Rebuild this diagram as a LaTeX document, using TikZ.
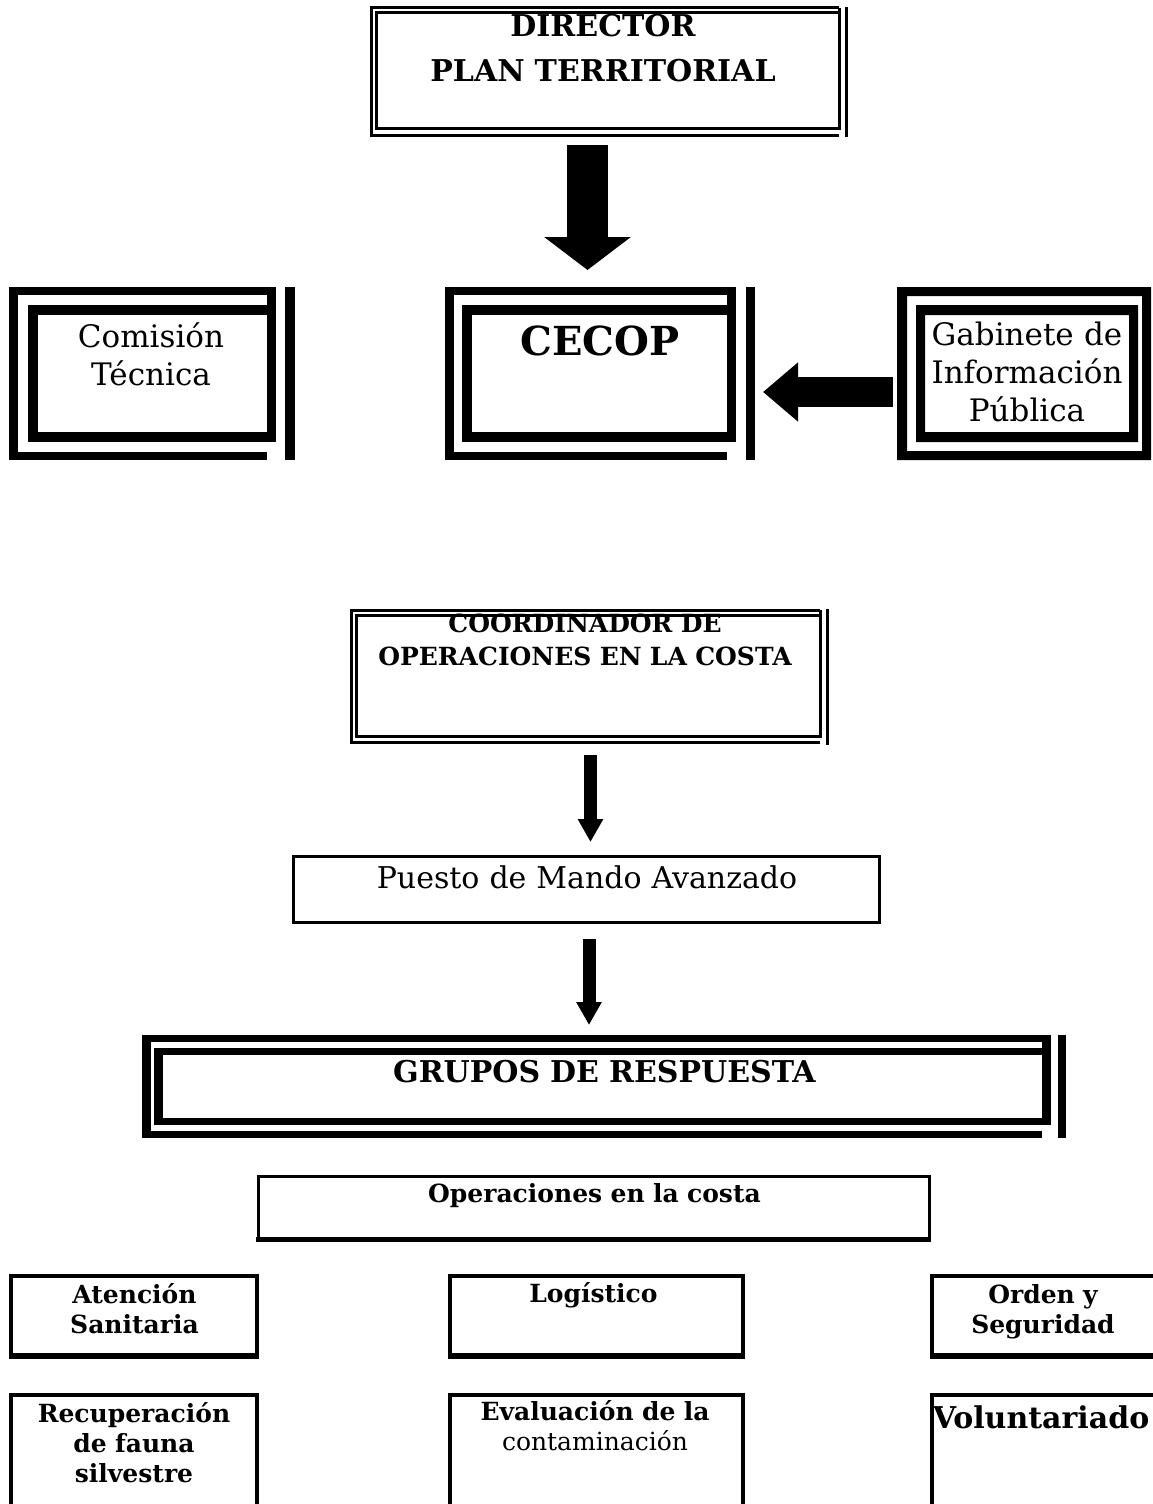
\documentclass[tikz,border=0pt]{standalone}
\usepackage{fontspec}
\setmainfont{DejaVu Serif}
\usetikzlibrary{arrows.meta}
\begin{document}
\begin{tikzpicture}[x=0.5pt,y=-0.5pt,
  boxarea/.style={inner sep=0pt, outer sep=0pt, draw=none},
  txt/.style={inner sep=0pt, anchor=base, align=center, text width=#1},
  hd/.style={font=\bfseries\fontsize{15pt}{22.5pt}\selectfont},
  rowtwo/.style={font=\fontsize{15.5pt}{19pt}\selectfont},
  smallbold/.style={font=\bfseries\fontsize{12.5pt}{15pt}\selectfont},
  thinframe/.style={line width=1.5pt},
  plainframe/.style={line width=2pt},
  shadowline/.style={line width=3pt},
  bigarrow/.style={line width=20.5pt, -{Triangle[width=42.5pt,length=16.5pt]}},
  sidearrow/.style={line width=15pt, -{Triangle[width=28.5pt,length=17.5pt]}},
  slimarrow/.style={line width=6.5pt, -{Triangle[width=12pt,length=11.5pt]}}
]
\useasboundingbox (0,0) rectangle (1152,1504);

% ---------- box areas (invisible anchors) ----------
\node[boxarea, minimum width=238.5pt, minimum height=65pt] (director) at (608.5,72) {};
\node[boxarea, minimum width=143pt, minimum height=86.5pt] (comision) at (152,373.5) {};
\node[boxarea, minimum width=155pt, minimum height=86.5pt] (cecop) at (600,373.5) {};
\node[boxarea, minimum width=126.5pt, minimum height=86.5pt] (gabinete) at (1023.5,373.5) {};
\node[boxarea, minimum width=239pt, minimum height=68pt] (coordinador) at (589,677) {};
\node[boxarea, minimum width=294.5pt, minimum height=34.5pt] (puesto) at (586.5,889.5) {};
\node[boxarea, minimum width=462pt, minimum height=51.5pt] (grupos) at (604,1086.5) {};
\node[boxarea, minimum width=337pt, minimum height=33pt] (operaciones) at (594,1208) {};
\node[boxarea, minimum width=125pt, minimum height=42.5pt] (atencion) at (134,1316.5) {};
\node[boxarea, minimum width=148.5pt, minimum height=42.5pt] (logistico) at (595.5,1316.5) {};
\node[boxarea, minimum width=115pt, minimum height=42.5pt] (orden) at (1045,1316.5) {};
\node[boxarea, minimum width=125pt, minimum height=63.5pt] (recuperacion) at (134,1456.5) {};
\node[boxarea, minimum width=148.5pt, minimum height=63.5pt] (evaluacion) at (595.5,1456.5) {};
\node[boxarea, minimum width=115pt, minimum height=63.5pt] (voluntariado) at (1045,1456.5) {};

% ---------- Director frame (thin double) ----------
\draw[thinframe] (839,8) -| (371,136) -- (839,136);
\draw[thinframe] (376,13) rectangle (839,129);
\draw[thinframe] (839,8) -- (839,13);
\draw[thinframe] (846,7) -- (846,137);

% ---------- Comision frame ----------
\fill (9,287) rectangle (276,295);
\fill (9,287) rectangle (18,460);
\fill (9,452) rectangle (267,460);
\fill (28,305) rectangle (276,315);
\fill (28,305) rectangle (38,442);
\fill (28,432) rectangle (276,442);
\fill (267,287) rectangle (276,442);
\fill (285,287) rectangle (295,460);

% ---------- CECOP frame ----------
\fill (445,287) rectangle (736,295);
\fill (445,287) rectangle (454,460);
\fill (445,452) rectangle (727,460);
\fill (462,305) rectangle (736,315);
\fill (462,305) rectangle (472,442);
\fill (462,432) rectangle (736,442);
\fill (727,287) rectangle (736,442);
\fill (746,287) rectangle (755,460);

% ---------- Gabinete frame ----------
\fill[even odd rule] (897,287) rectangle (1151,460) (907,296) rectangle (1142,451);
\fill[even odd rule] (916,305) rectangle (1138,442) (925,315) rectangle (1129,432);

% ---------- Coordinador frame (thin double) ----------
\draw[thinframe] (820,610) -| (351,742) -- (820,742);
\draw[thinframe] (356,615) rectangle (820,736);
\draw[thinframe] (820,610) -- (820,615);
\draw[thinframe] (827,609) -- (827,745);

% ---------- Puesto frame ----------
\draw[line width=1.6pt] (293.5,856.5) rectangle (879.5,922.5);

% ---------- Grupos frame ----------
\fill (142,1035) rectangle (1051,1042);
\fill (142,1035) rectangle (151,1138);
\fill (142,1131) rectangle (1042,1138);
\fill (154,1048) rectangle (1051,1055);
\fill (154,1048) rectangle (163,1125);
\fill (154,1118) rectangle (1051,1125);
\fill (1042,1035) rectangle (1051,1125);
\fill (1058,1035) rectangle (1066,1138);

% ---------- Operaciones frame ----------
\draw[line width=1.5pt] (258.5,1176.5) rectangle (929.5,1238);
\draw[line width=2.5pt] (256,1239) -- (931,1239);

% ---------- bottom frames ----------
\draw[plainframe] (11,1276) rectangle (257,1355);
\draw[shadowline] (9,1356) -- (259,1356);
\draw[plainframe] (449.5,1276) rectangle (742.5,1355);
\draw[shadowline] (447.5,1356) -- (744.5,1356);
\draw[plainframe] (932,1276) rectangle (1170,1355);
\draw[shadowline] (930,1356) -- (1170,1356);
\draw[plainframe] (11,1395) rectangle (257,1530);
\draw[plainframe] (449.5,1395) rectangle (742.5,1530);
\draw[plainframe] (932,1395) rectangle (1170,1530);

% ---------- texts ----------
\node[txt=230pt, hd] (dirtxt) at (603,37) {DIRECTOR\\PLAN TERRITORIAL};
\node[txt=130pt, rowtwo] (comtxt) at (151,347) {Comisión\\Técnica};
\node[txt=140pt, font=\bfseries\fontsize{20pt}{24pt}\selectfont] (cecoptxt) at (600,355) {CECOP};
\node[txt=125pt, rowtwo] (gabtxt) at (1027,345) {Gabinete de\\Información\\Pública};
\node[txt=235pt, font=\bfseries\fontsize{12.5pt}{16.5pt}\selectfont] (coortxt) at (585,632) {COORDINADOR DE\\OPERACIONES EN LA COSTA};
\node[txt=290pt, font=\fontsize{15pt}{18pt}\selectfont] (puestotxt) at (587,888) {Puesto de Mando Avanzado};
\node[txt=400pt, hd] (grupostxt) at (604.5,1082) {GRUPOS DE RESPUESTA};
\node[txt=330pt, smallbold] (opertxt) at (594.5,1202) {Operaciones en la costa};
\node[txt=120pt, smallbold] (atenciontxt) at (134.5,1303) {Atención\\Sanitaria};
\node[txt=140pt, smallbold] (logtxt) at (593.5,1302) {Logístico};
\node[txt=110pt, smallbold] (ordentxt) at (1043,1303) {Orden y\\Seguridad};
\node[txt=120pt, smallbold] (recuptxt) at (134,1422) {Recuperación\\de fauna\\silvestre};
\node[txt=140pt, smallbold] (evaltxt) at (595,1420) {Evaluación de la\\\textmd{contaminación}};
\node[txt=115pt, hd] (voltxt) at (1041,1428) {Voluntariado};

% ---------- connectors ----------
\coordinate (c1) at (587.5,0);
\coordinate (c2) at (0,392);
\coordinate (c3) at (590.5,0);
\coordinate (c4) at (589,0);
\draw[bigarrow, shorten <=4pt, shorten >=8.5pt] (director.south -| c1) -- (cecop.north -| c1);
\draw[sidearrow, shorten <=2pt, shorten >=4pt] (gabinete.west |- c2) -- (cecop.east |- c2);
\draw[slimarrow, shorten <=5pt, shorten >=6.5pt] (coordinador.south -| c3) -- (puesto.north -| c3);
\draw[slimarrow, shorten <=7.5pt, shorten >=5pt] (puesto.south -| c4) -- (grupos.north -| c4);
\end{tikzpicture}
\end{document}
